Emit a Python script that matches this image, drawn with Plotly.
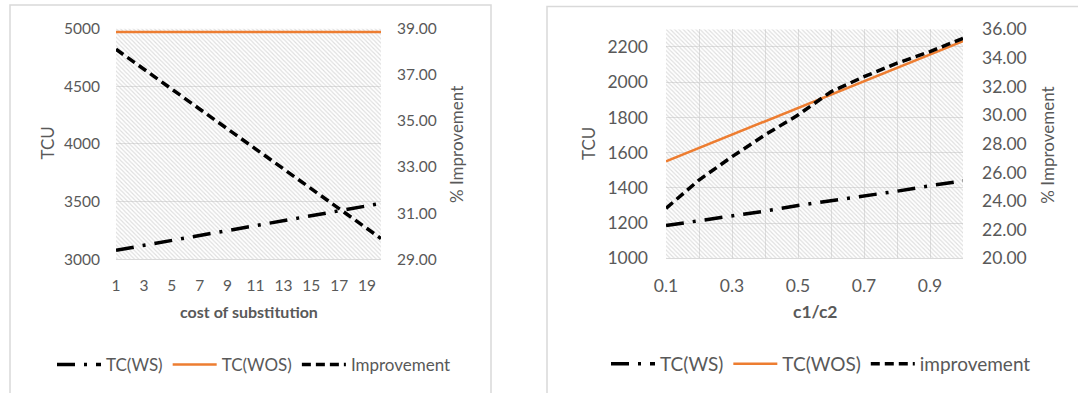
import plotly.graph_objects as go

W, H = 1078, 393

# ---- left chart: TCU vs cost of substitution ----
cost = [1, 2, 3, 4, 5, 6, 7, 8, 9, 10, 11, 12, 13, 14, 15, 16, 17, 18, 19, 20]
cost_ticks = ["1", "", "3", "", "5", "", "7", "", "9", "", "11", "", "13", "", "15", "", "17", "", "19", ""]
tc_ws_cost = [3078, 3099, 3121, 3142, 3164, 3185, 3206, 3228, 3249, 3271,
              3292, 3313, 3335, 3356, 3378, 3399, 3420, 3442, 3463, 3485]
tc_wos_cost = [4970, 4970, 4970, 4970, 4970, 4970, 4970, 4970, 4970, 4970,
               4970, 4970, 4970, 4970, 4970, 4970, 4970, 4970, 4970, 4970]
impr_cost = [38.10, 37.67, 37.24, 36.80, 36.37, 35.94, 35.51, 35.08, 34.65, 34.22,
             33.78, 33.35, 32.92, 32.49, 32.06, 31.63, 31.20, 30.76, 30.33, 29.90]

# ---- right chart: TCU vs c1/c2 ----
ratio = [0.1, 0.2, 0.3, 0.4, 0.5, 0.6, 0.7, 0.8, 0.9, 1.0]
ratio_ticks = ["0.1", "", "0.3", "", "0.5", "", "0.7", "", "0.9", ""]
tc_ws_ratio = [1186, 1213, 1241, 1268, 1300, 1326, 1350, 1381, 1412, 1440]
tc_wos_ratio = [1550, 1626, 1702, 1778, 1856, 1930, 2005, 2081, 2157, 2233]
impr_ratio = [23.49, 25.47, 27.10, 28.62, 30.01, 31.64, 32.69, 33.63, 34.44, 35.37]

# axis ranges
L_TCU = [3000, 5000]
L_PCT = [29, 39]
R_TCU = [1000, 2300]
R_PCT = [20, 36]

FONT = "Lato"
GREY = "#595959"
ORANGE = "#ED7D31"
GRID = "#e0e0e0"
DASH = "9px,5px"
DASHDOT = "18px,9px,3px,9px"


def px_x(v):
    return v / W


def px_y(v):
    return (H - v) / H


fig = go.Figure()


def hatch(xr, yr, xa, ya):
    # diagonal hatched plot-area background
    fig.add_trace(go.Scatter(
        x=[xr[0], xr[1], xr[1], xr[0], xr[0]],
        y=[yr[0], yr[0], yr[1], yr[1], yr[0]],
        xaxis=xa, yaxis=ya, mode="none", fill="toself",
        fillcolor="rgba(0,0,0,0)",
        fillpattern=dict(shape="\\", fgcolor="#bdbdbd", bgcolor="rgba(0,0,0,0)",
                         size=3, solidity=0.38),
        showlegend=False, hoverinfo="skip"))


hatch([cost[0], cost[-1]], L_TCU, "x", "y")
hatch([ratio[0], ratio[-1]], R_TCU, "x2", "y3")

# left chart series
fig.add_trace(go.Scatter(x=cost, y=tc_ws_cost, name="TC(WS)", mode="lines",
                         line=dict(color="black", width=3.5, dash=DASHDOT),
                         xaxis="x", yaxis="y", legend="legend"))
fig.add_trace(go.Scatter(x=cost, y=tc_wos_cost, name="TC(WOS)", mode="lines",
                         line=dict(color=ORANGE, width=2.5),
                         xaxis="x", yaxis="y", legend="legend"))
fig.add_trace(go.Scatter(x=cost, y=impr_cost, name="Improvement", mode="lines",
                         line=dict(color="black", width=3.5, dash=DASH),
                         xaxis="x", yaxis="y2", legend="legend"))

# right chart series
fig.add_trace(go.Scatter(x=ratio, y=tc_ws_ratio, name="TC(WS)", mode="lines",
                         line=dict(color="black", width=3.5, dash=DASHDOT),
                         xaxis="x2", yaxis="y3", legend="legend2"))
fig.add_trace(go.Scatter(x=ratio, y=tc_wos_ratio, name="TC(WOS)", mode="lines",
                         line=dict(color=ORANGE, width=2.5),
                         xaxis="x2", yaxis="y3", legend="legend2"))
fig.add_trace(go.Scatter(x=ratio, y=impr_ratio, name="improvement", mode="lines",
                         line=dict(color="black", width=3.5, dash=DASH),
                         xaxis="x2", yaxis="y4", legend="legend2"))

tick_l = dict(family=FONT, size=15.5, color=GREY)
tick_r = dict(family=FONT, size=17.5, color=GREY)
title_font = dict(family=FONT, size=17, color=GREY)

L_X = [px_x(116), px_x(381)]
L_Y = [px_y(259.3), px_y(28.5)]
R_X = [px_x(666), px_x(963)]
R_Y = [px_y(258.3), px_y(29.3)]

fig.update_layout(
    width=W, height=H,
    margin=dict(l=0, r=0, t=0, b=0, autoexpand=False),
    paper_bgcolor="white", plot_bgcolor="white",
    font=dict(family=FONT, color=GREY),
    xaxis=dict(domain=L_X, anchor="y", range=[cost[0], cost[-1]], automargin=False,
               tickmode="array", tickvals=cost, ticktext=cost_ticks,
               showgrid=False, zeroline=False, showline=True, linecolor="#d9d9d9",
               linewidth=1, ticks="", tickfont=tick_l, ticklabelstandoff=12),
    yaxis=dict(domain=L_Y, anchor="x", range=L_TCU, tick0=L_TCU[0], dtick=500,
               automargin=False, showgrid=True, gridcolor=GRID, zeroline=False,
               ticks="", tickfont=tick_l, ticklabelstandoff=15),
    yaxis2=dict(overlaying="y", anchor="x", side="right", range=L_PCT,
                tick0=L_PCT[0], dtick=2, automargin=False,
                tickformat=".2f", showgrid=False, zeroline=False, ticks="",
                tickfont=tick_l, ticklabelstandoff=15),
    xaxis2=dict(domain=R_X, anchor="y3", range=[ratio[0], ratio[-1]], automargin=False,
                tickmode="array", tickvals=ratio, ticktext=ratio_ticks,
                showgrid=True, gridcolor=GRID, zeroline=False, showline=True,
                linecolor="#d9d9d9", linewidth=1, ticks="", tickfont=tick_r,
                ticklabelstandoff=12),
    yaxis3=dict(domain=R_Y, anchor="x2", range=R_TCU, tick0=R_TCU[0], dtick=200,
                automargin=False, showgrid=True, gridcolor=GRID, zeroline=False,
                ticks="", tickfont=tick_r, ticklabelstandoff=17),
    yaxis4=dict(overlaying="y3", anchor="x2", side="right", range=R_PCT,
                tick0=R_PCT[0], dtick=2, automargin=False,
                tickformat=".2f", showgrid=False, zeroline=False, ticks="",
                tickfont=tick_r, ticklabelstandoff=18),
    legend=dict(orientation="h", x=px_x(254), y=px_y(365), xanchor="center",
                yanchor="middle", font=dict(family=FONT, size=17, color=GREY),
                bgcolor="rgba(0,0,0,0)", itemwidth=44, tracegroupgap=0),
    legend2=dict(orientation="h", x=px_x(821), y=px_y(364), xanchor="center",
                 yanchor="middle", font=dict(family=FONT, size=19, color=GREY),
                 bgcolor="rgba(0,0,0,0)", itemwidth=44, tracegroupgap=0),
    shapes=[
        dict(type="rect", xref="paper", yref="paper", x0=px_x(10), x1=px_x(491),
             y0=-0.1, y1=px_y(5), line=dict(color="#d9d9d9", width=1.5),
             fillcolor="rgba(0,0,0,0)", layer="below"),
        dict(type="rect", xref="paper", yref="paper", x0=px_x(547), x1=1.1,
             y0=-0.1, y1=px_y(6.5), line=dict(color="#d9d9d9", width=1.5),
             fillcolor="rgba(0,0,0,0)", layer="below"),
    ],
    annotations=[
        dict(text="TCU", x=px_x(46.5), y=px_y(143), xref="paper", yref="paper",
             textangle=-90, showarrow=False, xanchor="center", yanchor="middle",
             font=title_font),
        dict(text="% Improvement", x=px_x(456), y=px_y(145), xref="paper", yref="paper",
             textangle=-90, showarrow=False, xanchor="center", yanchor="middle",
             font=title_font),
        dict(text="<b>cost of substitution</b>", x=px_x(248.5), y=px_y(311.5),
             xref="paper", yref="paper", showarrow=False, xanchor="center",
             yanchor="middle", font=dict(family=FONT, size=16, color=GREY)),
        dict(text="TCU", x=px_x(588), y=px_y(144), xref="paper", yref="paper",
             textangle=-90, showarrow=False, xanchor="center", yanchor="middle",
             font=title_font),
        dict(text="% Improvement", x=px_x(1046.7), y=px_y(145), xref="paper", yref="paper",
             textangle=-90, showarrow=False, xanchor="center", yanchor="middle",
             font=title_font),
        dict(text="<b>c1/c2</b>", x=px_x(815), y=px_y(311.5),
             xref="paper", yref="paper", showarrow=False, xanchor="center",
             yanchor="middle", font=dict(family=FONT, size=17.5, color=GREY)),
    ],
)

fig.write_html("out.html")
